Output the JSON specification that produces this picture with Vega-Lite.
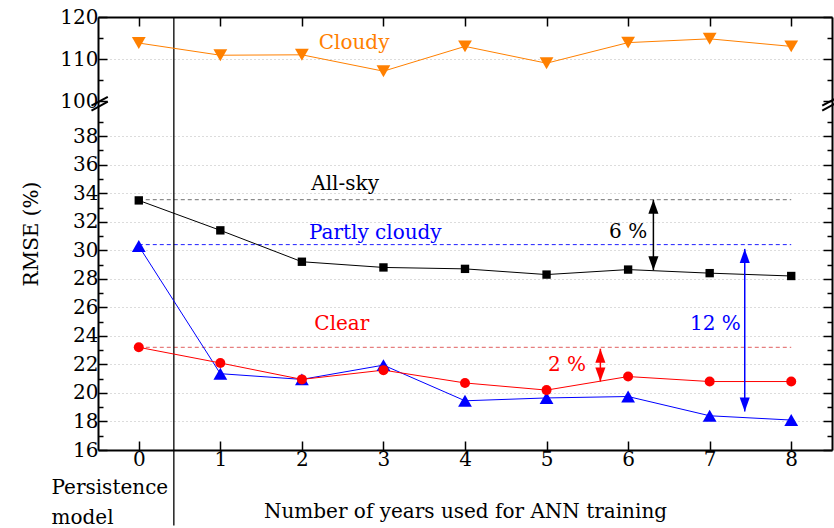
{
  "$schema": "https://vega.github.io/schema/vega-lite/v6.json",
  "width": 734,
  "height": 433,
  "autosize": {"type": "none"},
  "padding": {"left": 98, "top": 17, "right": 2, "bottom": 78},
  "background": "white",
  "config": {
    "view": {"stroke": null},
    "font": "DejaVu Serif",
    "text": {"font": "DejaVu Serif"},
    "axis": {
      "labelFont": "DejaVu Serif",
      "titleFont": "DejaVu Serif",
      "labelFontSize": 20,
      "titleFontSize": 20,
      "titleFontWeight": "normal",
      "labelColor": "black",
      "titleColor": "black",
      "domainColor": "black",
      "domainWidth": 2,
      "tickColor": "black",
      "tickWidth": 1.5,
      "labelFlush": false,
      "labelOverlap": false
    }
  },
  "datasets": {
    "rmse": [
      {"years": 0, "rmse": 33.5, "sky": "All-sky"},
      {"years": 1, "rmse": 31.4, "sky": "All-sky"},
      {"years": 2, "rmse": 29.2, "sky": "All-sky"},
      {"years": 3, "rmse": 28.8, "sky": "All-sky"},
      {"years": 4, "rmse": 28.7, "sky": "All-sky"},
      {"years": 5, "rmse": 28.3, "sky": "All-sky"},
      {"years": 6, "rmse": 28.65, "sky": "All-sky"},
      {"years": 7, "rmse": 28.4, "sky": "All-sky"},
      {"years": 8, "rmse": 28.2, "sky": "All-sky"},
      {"years": 0, "rmse": 30.3, "sky": "Partly cloudy"},
      {"years": 1, "rmse": 21.35, "sky": "Partly cloudy"},
      {"years": 2, "rmse": 20.95, "sky": "Partly cloudy"},
      {"years": 3, "rmse": 21.95, "sky": "Partly cloudy"},
      {"years": 4, "rmse": 19.45, "sky": "Partly cloudy"},
      {"years": 5, "rmse": 19.65, "sky": "Partly cloudy"},
      {"years": 6, "rmse": 19.75, "sky": "Partly cloudy"},
      {"years": 7, "rmse": 18.4, "sky": "Partly cloudy"},
      {"years": 8, "rmse": 18.1, "sky": "Partly cloudy"},
      {"years": 0, "rmse": 23.2, "sky": "Clear"},
      {"years": 1, "rmse": 22.1, "sky": "Clear"},
      {"years": 2, "rmse": 20.95, "sky": "Clear"},
      {"years": 3, "rmse": 21.6, "sky": "Clear"},
      {"years": 4, "rmse": 20.7, "sky": "Clear"},
      {"years": 5, "rmse": 20.2, "sky": "Clear"},
      {"years": 6, "rmse": 21.15, "sky": "Clear"},
      {"years": 7, "rmse": 20.8, "sky": "Clear"},
      {"years": 8, "rmse": 20.8, "sky": "Clear"},
      {"years": 0, "rmse": 113.8, "sky": "Cloudy"},
      {"years": 1, "rmse": 110.9, "sky": "Cloudy"},
      {"years": 2, "rmse": 111.0, "sky": "Cloudy"},
      {"years": 3, "rmse": 107.1, "sky": "Cloudy"},
      {"years": 4, "rmse": 113.0, "sky": "Cloudy"},
      {"years": 5, "rmse": 109.0, "sky": "Cloudy"},
      {"years": 6, "rmse": 113.9, "sky": "Cloudy"},
      {"years": 7, "rmse": 114.8, "sky": "Cloudy"},
      {"years": 8, "rmse": 113.0, "sky": "Cloudy"}
    ],
    "persistence": [
      {"sky": "All-sky", "rmse": 33.55},
      {"sky": "Partly cloudy", "rmse": 30.4},
      {"sky": "Clear", "rmse": 23.2}
    ],
    "gaps": [
      {"sky": "All-sky", "x": 6.31, "top": 33.55, "bottom": 28.6},
      {"sky": "Partly cloudy", "x": 7.43, "top": 30.1, "bottom": 18.7},
      {"sky": "Clear", "x": 5.66, "top": 23.1, "bottom": 20.8}
    ],
    "notes": [
      {"sky": "Cloudy", "x": 2.64, "y": 113.9, "text": "Cloudy"},
      {"sky": "All-sky", "x": 2.53, "y": 34.66, "text": "All-sky"},
      {"sky": "Partly cloudy", "x": 2.9, "y": 31.2, "text": "Partly cloudy"},
      {"sky": "Clear", "x": 2.49, "y": 24.8, "text": "Clear"},
      {"sky": "All-sky", "x": 6.0, "y": 31.3, "text": "6 %"},
      {"sky": "Partly cloudy", "x": 7.07, "y": 24.8, "text": "12 %"},
      {"sky": "Clear", "x": 5.25, "y": 21.95, "text": "2 %"}
    ]
  },
  "layer": [
    {
      "data": {"name": "persistence"},
      "mark": {"type": "rule", "strokeDash": [4, 3], "strokeWidth": 1},
      "encoding": {
        "x": {
          "datum": 0,
          "type": "quantitative",
          "scale": {"domain": [-0.5, 8.5], "nice": false, "zero": false},
          "axis": {
            "orient": "bottom",
            "values": [0, 1, 2, 3, 4, 5, 6, 7, 8],
            "format": "d",
            "tickSize": -9,
            "labelPadding": 8,
            "grid": false,
            "title": "Number of years used for ANN training",
            "titleY": 67,
            "titleBaseline": "alphabetic"
          }
        },
        "x2": {"datum": 8},
        "y": {
          "field": "rmse",
          "type": "quantitative",
          "scale": {"domain": [16, 40, 100, 120], "range": [433, 90.7, 84, 0], "nice": false, "zero": false},
          "axis": {
            "orient": "left",
            "values": [16, 17, 18, 19, 20, 21, 22, 23, 24, 25, 26, 27, 28, 29, 30, 31, 32, 33, 34, 35, 36, 37, 38, 39, 100, 105, 110, 115, 120],
            "labelExpr": "(datum.value <= 38 && datum.value % 2 == 0) || datum.value % 10 == 0 ? datum.label : ''",
            "tickSize": {"condition": {"test": "(datum.value <= 40 && datum.value % 2 == 0) || datum.value % 10 == 0", "value": -9}, "value": -5},
            "labelPadding": 9,
            "grid": true,
            "gridColor": "#b8b8b8",
            "gridDash": [1, 3],
            "gridWidth": 1,
            "gridOpacity": {"condition": {"test": "(datum.value >= 18 && datum.value <= 38 && datum.value % 2 == 0) || datum.value == 110", "value": 1}, "value": 0},
            "title": "RMSE (%)",
            "titlePadding": 18
          }
        },
        "stroke": {
          "field": "sky",
          "type": "nominal",
          "scale": {"domain": ["All-sky", "Partly cloudy", "Clear"], "range": ["#707070", "#2020ff", "#e06060"]},
          "legend": null
        }
      }
    },
    {
      "data": {"values": [{}]},
      "mark": {"type": "rule", "color": "black", "strokeWidth": 1.3},
      "encoding": {
        "x": {
          "datum": 0.43,
          "type": "quantitative",
          "scale": {"domain": [-0.5, 8.5], "nice": false, "zero": false},
          "axis": {
            "orient": "top",
            "values": [0, 1, 2, 3, 4, 5, 6, 7, 8],
            "labels": false,
            "tickSize": -9,
            "grid": false,
            "title": ["Persistence", "model"],
            "titleX": -47,
            "titleY": 476,
            "titleAlign": "left",
            "titleAnchor": "start",
            "titleBaseline": "alphabetic",
            "titleLineHeight": 30
          }
        },
        "y": {
          "datum": 120,
          "type": "quantitative",
          "scale": {"domain": [16, 40, 100, 120], "range": [433, 90.7, 84, 0], "nice": false, "zero": false},
          "axis": {
            "orient": "right",
            "values": [16, 17, 18, 19, 20, 21, 22, 23, 24, 25, 26, 27, 28, 29, 30, 31, 32, 33, 34, 35, 36, 37, 38, 39, 100, 105, 110, 115, 120],
            "labels": false,
            "tickSize": {"condition": {"test": "(datum.value <= 40 && datum.value % 2 == 0) || datum.value % 10 == 0", "value": -9}, "value": -5},
            "grid": false,
            "title": null
          }
        },
        "y2": {"datum": 10.7}
      }
    },
    {
      "data": {"name": "rmse"},
      "mark": {"type": "line", "strokeWidth": 1},
      "encoding": {
        "x": {"field": "years", "type": "quantitative", "axis": null},
        "y": {"field": "rmse", "type": "quantitative", "axis": null},
        "color": {
          "field": "sky",
          "type": "nominal",
          "scale": {"domain": ["All-sky", "Partly cloudy", "Clear", "Cloudy"], "range": ["#000000", "#0000ff", "#ff0000", "#ff8000"]},
          "legend": null
        }
      }
    },
    {
      "data": {"name": "rmse"},
      "mark": {"type": "point", "filled": true, "opacity": 1},
      "encoding": {
        "x": {"field": "years", "type": "quantitative", "axis": null},
        "y": {"field": "rmse", "type": "quantitative", "axis": null},
        "color": {"field": "sky", "type": "nominal", "legend": null},
        "shape": {
          "field": "sky",
          "type": "nominal",
          "scale": {"domain": ["All-sky", "Partly cloudy", "Clear", "Cloudy"], "range": ["square", "triangle-up", "circle", "triangle-down"]},
          "legend": null
        },
        "size": {
          "field": "sky",
          "type": "nominal",
          "scale": {"type": "ordinal", "domain": ["All-sky", "Partly cloudy", "Clear", "Cloudy"], "range": [70, 190, 100, 190]},
          "legend": null
        }
      }
    },
    {
      "data": {"name": "gaps"},
      "mark": {"type": "rule", "strokeWidth": 1.5},
      "encoding": {
        "x": {"field": "x", "type": "quantitative", "axis": null},
        "y": {"field": "top", "type": "quantitative", "axis": null},
        "y2": {"field": "bottom"},
        "color": {"field": "sky", "type": "nominal", "legend": null}
      }
    },
    {
      "data": {"name": "gaps"},
      "mark": {"type": "point", "filled": true, "opacity": 1, "size": 784, "shape": "M0,0L0.36,1L-0.36,1Z"},
      "encoding": {
        "x": {"field": "x", "type": "quantitative", "axis": null},
        "y": {"field": "top", "type": "quantitative", "axis": null},
        "color": {"field": "sky", "type": "nominal", "legend": null}
      }
    },
    {
      "data": {"name": "gaps"},
      "mark": {"type": "point", "filled": true, "opacity": 1, "size": 784, "shape": "M0,0L0.36,-1L-0.36,-1Z"},
      "encoding": {
        "x": {"field": "x", "type": "quantitative", "axis": null},
        "y": {"field": "bottom", "type": "quantitative", "axis": null},
        "color": {"field": "sky", "type": "nominal", "legend": null}
      }
    },
    {
      "data": {"name": "notes"},
      "mark": {"type": "text", "fontSize": 20, "align": "center", "baseline": "middle"},
      "encoding": {
        "x": {"field": "x", "type": "quantitative", "axis": null},
        "y": {"field": "y", "type": "quantitative", "axis": null},
        "text": {"field": "text"},
        "color": {"field": "sky", "type": "nominal", "legend": null}
      }
    },
    {
      "data": {"values": [{}]},
      "mark": {"type": "rule", "color": "black", "strokeWidth": 2},
      "encoding": {
        "x": {"datum": -0.58, "type": "quantitative", "axis": null},
        "x2": {"datum": -0.38},
        "y": {"datum": 57.9, "type": "quantitative", "axis": null},
        "y2": {"datum": 101.0}
      }
    },
    {
      "data": {"values": [{}]},
      "mark": {"type": "rule", "color": "black", "strokeWidth": 2},
      "encoding": {
        "x": {"datum": -0.58, "type": "quantitative", "axis": null},
        "x2": {"datum": -0.38},
        "y": {"datum": 39.79, "type": "quantitative", "axis": null},
        "y2": {"datum": 93.7}
      }
    },
    {
      "data": {"values": [{}]},
      "mark": {"type": "rule", "color": "black", "strokeWidth": 2},
      "encoding": {
        "x": {"datum": 8.38, "type": "quantitative", "axis": null},
        "x2": {"datum": 8.58},
        "y": {"datum": 57.9, "type": "quantitative", "axis": null},
        "y2": {"datum": 101.0}
      }
    },
    {
      "data": {"values": [{}]},
      "mark": {"type": "rule", "color": "black", "strokeWidth": 2},
      "encoding": {
        "x": {"datum": 8.38, "type": "quantitative", "axis": null},
        "x2": {"datum": 8.58},
        "y": {"datum": 39.79, "type": "quantitative", "axis": null},
        "y2": {"datum": 93.7}
      }
    }
  ],
  "resolve": {"axis": {"x": "independent", "y": "independent"}}
}
